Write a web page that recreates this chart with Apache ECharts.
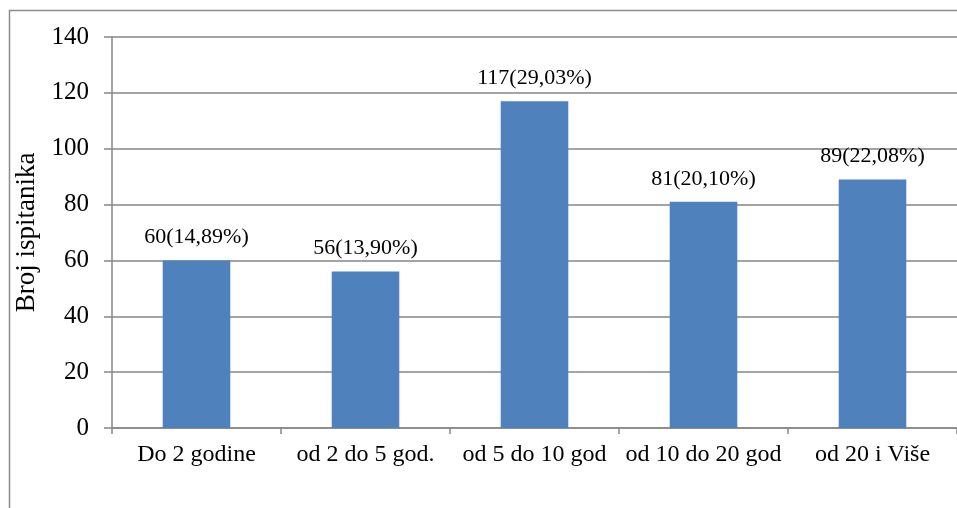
<!DOCTYPE html>
<html><head><meta charset="utf-8">
<script src="https://cdn.jsdelivr.net/npm/echarts@6/dist/echarts.min.js"></script>
<style>html,body{margin:0;padding:0;background:#fff}#c{width:957px;height:508px}</style>
</head><body><div id="c"></div>
<script>
var categories = ['Do 2 godine', 'od 2 do 5 god.', 'od 5 do 10 god', 'od 10 do 20 god', 'od 20 i Više'];
var values = [60, 56, 117, 81, 89];
var labels = ['60(14,89%)', '56(13,90%)', '117(29,03%)', '81(20,10%)', '89(22,08%)'];
var yTicks = [0, 20, 40, 60, 80, 100, 120, 140];
var font = '"Liberation Serif", "Times New Roman", serif';
var chart = echarts.init(document.getElementById('c'));
chart.setOption({
  animation: false,
  graphic: [{type: 'rect', shape: {x: 9.5, y: 10.5, width: 1000, height: 1000}, style: {fill: 'none', stroke: '#8c8c8c', lineWidth: 1.5}, silent: true}],
  grid: {left: 112, right: 0, top: 37, bottom: 80},
  xAxis: {
    type: 'category', data: categories,
    axisLine: {lineStyle: {color: '#868686', width: 1.5}},
    axisTick: {show: true, length: 6, lineStyle: {color: '#868686', width: 1.5}},
    axisLabel: {color: '#000', fontFamily: font, fontSize: 24, margin: 15, interval: 0, hideOverlap: false}
  },
  yAxis: {
    type: 'value', min: 0, max: 140, interval: 20,
    name: 'Broj ispitanika', nameLocation: 'middle', nameGap: 60,
    nameTextStyle: {color: '#000', fontFamily: font, fontSize: 27},
    axisLine: {show: true, lineStyle: {color: '#868686', width: 1.5}},
    axisTick: {show: true, length: 8, lineStyle: {color: '#868686', width: 1.5}},
    axisLabel: {color: '#000', fontFamily: font, fontSize: 25, margin: 23, formatter: function (v) { return yTicks.indexOf(v) >= 0 ? String(v) : ''; }},
    splitLine: {lineStyle: {color: '#868686', width: 1.5}}
  },
  series: [{
    type: 'bar', data: values, barWidth: '40%',
    itemStyle: {color: '#4F81BD'},
    label: {show: true, position: 'top', distance: 12, color: '#000', fontFamily: font, fontSize: 22,
      formatter: function (p) { return labels[p.dataIndex]; }}
  }]
});
</script></body></html>
